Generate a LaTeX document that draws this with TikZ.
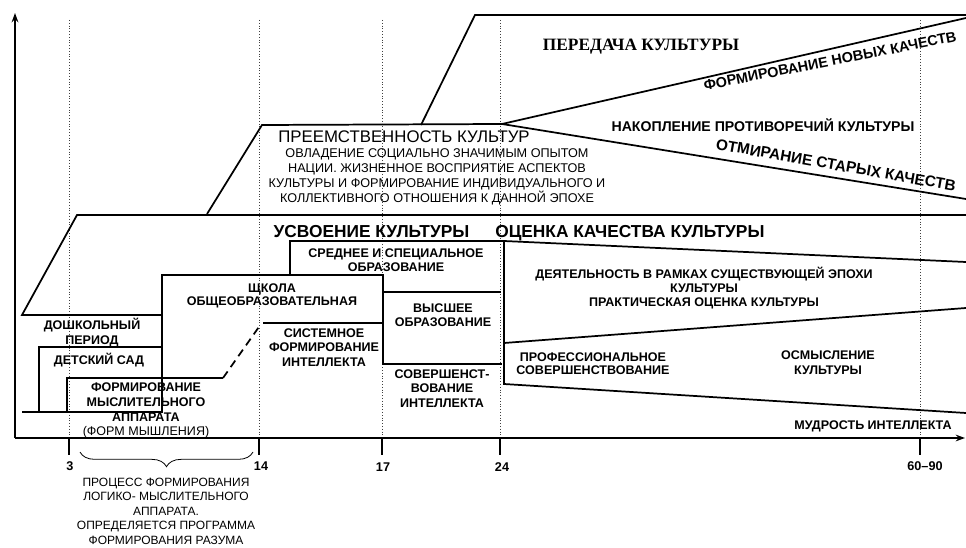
\documentclass[tikz,border=0pt]{standalone}
\usepackage{fontspec}
\setmainfont{Liberation Sans}
\newfontfamily\serifbf{Liberation Serif}
\usetikzlibrary{arrows.meta,decorations.pathreplacing}
\begin{document}
\begin{tikzpicture}[x=0.75pt,y=-0.75pt,
  ln/.style={line width=1.3pt, line join=miter},
  guide/.style={line width=0.6pt, dash pattern=on 0.8pt off 1.3pt, black!75},
  tickln/.style={line width=0.9pt},
  axisln/.style={line width=1.3pt, -{Stealth[length=7pt,width=5pt]}},
  sb/.style={font=\fontsize{9.4}{10.9}\selectfont\bfseries, align=center, anchor=base, inner sep=0pt},
  rg/.style={font=\fontsize{9.4}{10.9}\selectfont, align=center, anchor=base, inner sep=0pt},
  big/.style={font=\fontsize{13}{15}\selectfont\bfseries, anchor=base, inner sep=0pt},
  ticklbl/.style={font=\fontsize{9.5}{11}\selectfont\bfseries, anchor=base, inner sep=0pt}
]
\fill[white] (0,0) rectangle (966,548);
\useasboundingbox (0,0) rectangle (966,548);

% guides (age marks)
\foreach \gx/\gn in {69/g3, 259/g14, 382/g17, 500/g24, 920/g60} {
  \coordinate (\gn top) at (\gx,20);
  \coordinate (\gn ax) at (\gx,438);
  \coordinate (\gn bot) at (\gx,455);
  \draw[guide] (\gn top) -- (\gn ax);
  \draw[tickln] (\gn ax) -- (\gn bot);
}

% axes
\coordinate (O) at (15,438);
\coordinate (Ytop) at (15,13);
\coordinate (Xend) at (965,438);
\draw[axisln] (O) -- (Ytop);
\draw[axisln] (O) -- (Xend);

% outer "usvoenie" trapezoid
\coordinate (u1) at (22,315);
\coordinate (u2) at (77,215);
\coordinate (u3) at (966,215);
\coordinate (u4) at (162,315);
\draw[ln] (u4) -- (u1) -- (u2) -- (u3);

% school and preschool blocks
\coordinate (b1) at (22,412);
\coordinate (b2) at (162,412);
\coordinate (b3) at (162,275);
\coordinate (b4) at (383,275);
\coordinate (b5) at (383,364);
\coordinate (b6) at (502,364);
\draw[ln] (b1) -- (b2) -- (b3) -- (b4) -- (b5) -- (b6);
\coordinate (d1) at (39,412);
\coordinate (d2) at (39,347);
\coordinate (d3) at (162,347);
\draw[ln] (d1) -- (d2) -- (d3);
\coordinate (f1) at (67,412);
\coordinate (f2) at (67,378);
\coordinate (f3) at (223,378);
\coordinate (f4) at (261,324);
\draw[ln] (f1) -- (f2) -- (f3);
\draw[ln, dash pattern=on 6pt off 4pt] (f3) -- (f4);
\coordinate (s1) at (263,323);
\coordinate (s2) at (383,323);
\draw[ln] (s1) -- (s2);
% secondary / higher education
\coordinate (c1) at (290,275);
\coordinate (c2) at (290,241);
\coordinate (c3) at (504,241);
\draw[ln] (c1) -- (c2) -- (c3);
\coordinate (h1) at (383,292);
\coordinate (h2) at (501,292);
\draw[ln] (h1) -- (h2);
% evaluation block
\coordinate (e1) at (966,262);
\coordinate (e2) at (504,384);
\coordinate (e3) at (966,413);
\coordinate (e4) at (504,343);
\coordinate (e5) at (966,308);
\draw[ln] (e1) -- (c3) -- (e2) -- (e3);
\draw[ln] (e4) -- (e5);
% continuity block
\coordinate (p1) at (207,214);
\coordinate (p2) at (262,125);
\coordinate (p3) at (502,124);
\coordinate (p4) at (966,18);
\coordinate (p5) at (966,199);
\draw[ln] (p1) -- (p2) -- (p3) -- (p4);
\draw[ln] (p3) -- (p5);
% transmission block
\coordinate (t1) at (421,125);
\coordinate (t2) at (475,15);
\coordinate (t3) at (966,15);
\draw[ln] (t1) -- (t2) -- (t3);

% brace
\coordinate (br1) at (80,452);
\coordinate (br2) at (253,452);
\draw[line width=0.6pt, decorate, decoration={brace, mirror, amplitude=11pt}] (br1) -- (br2);

% texts (anchor=base of a multi-line node = baseline of its last line)
\node[sb] (doshk) at (92,344.5) {ДОШКОЛЬНЫЙ\\ПЕРИОД};
\node[sb] (dsad) at (99,364.5) {ДЕТСКИЙ САД};
\node[sb] (fma) at (146,421) {ФОРМИРОВАНИЕ\\МЫСЛИТЕЛЬНОГО\\АППАРАТА};
\node[rg] (fmm) at (146,435.5) {(ФОРМ МЫШЛЕНИЯ)};
\node[sb, font=\fontsize{9.4}{10.1}\selectfont\bfseries] (shk) at (272,306) {ЩКОЛА\\ОБЩЕОБРАЗОВАТЕЛЬНАЯ};
\node[sb] (sist) at (324,366.5) {СИСТЕМНОЕ\\ФОРМИРОВАНИЕ\\ИНТЕЛЛЕКТА};
\node[sb, font=\fontsize{9.4}{10.5}\selectfont\bfseries] (sred) at (396,271.5) {СРЕДНЕЕ И СПЕЦИАЛЬНОЕ\\ОБРАЗОВАНИЕ};
\node[sb, font=\fontsize{9.4}{10.5}\selectfont\bfseries] (vys) at (443,326.5) {ВЫСШЕЕ\\ОБРАЗОВАНИЕ};
\node[sb] (sov) at (442,407.5) {СОВЕРШЕНСТ-\\ВОВАНИЕ\\ИНТЕЛЛЕКТА};
\node[sb, font=\fontsize{9.4}{10.5}\selectfont\bfseries] (deyat) at (704,306.5) {ДЕЯТЕЛЬНОСТЬ В РАМКАХ СУЩЕСТВУЮЩЕЙ ЭПОХИ\\КУЛЬТУРЫ\\ПРАКТИЧЕСКАЯ ОЦЕНКА КУЛЬТУРЫ};
\node[sb, font=\fontsize{9.4}{10.1}\selectfont\bfseries] (prof) at (593,374.5) {ПРОФЕССИОНАЛЬНОЕ\\СОВЕРШЕНСТВОВАНИЕ};
\node[sb, font=\fontsize{9.4}{11.25}\selectfont\bfseries] (osm) at (828,374.5) {ОСМЫСЛЕНИЕ\\КУЛЬТУРЫ};
\node[sb] (mudr) at (873,429.5) {МУДРОСТЬ ИНТЕЛЛЕКТА};

\node[big] (usv) at (371.5,238) {УСВОЕНИЕ КУЛЬТУРЫ};
\node[big, anchor=base west] (ots) at (495,238) {ОЦЕНКА КАЧЕСТВА КУЛЬТУРЫ};

\node[font=\fontsize{12.6}{14}\selectfont, anchor=base, inner sep=0pt] (preem) at (404,143) {ПРЕЕМСТВЕННОСТЬ КУЛЬТУР};
\node[rg, font=\fontsize{9.5}{11.25}\selectfont] (ovl) at (437,202.5) {ОВЛАДЕНИЕ СОЦИАЛЬНО ЗНАЧИМЫМ ОПЫТОМ\\НАЦИИ. ЖИЗНЕННОЕ ВОСПРИЯТИЕ АСПЕКТОВ\\КУЛЬТУРЫ И ФОРМИРОВАНИЕ ИНДИВИДУАЛЬНОГО И\\КОЛЛЕКТИВНОГО ОТНОШЕНИЯ К ДАННОЙ ЭПОХЕ};

\node[font=\serifbf\fontsize{13}{15}\selectfont\bfseries, anchor=base, inner sep=0pt] (pered) at (641,51) {ПЕРЕДАЧА КУЛЬТУРЫ};
\node[font=\fontsize{10.8}{12}\selectfont\bfseries, rotate=11, inner sep=0pt] (nov) at (830,61) {ФОРМИРОВАНИЕ НОВЫХ КАЧЕСТВ};
\node[font=\fontsize{10.6}{12}\selectfont\bfseries, anchor=base, inner sep=0pt] (nak) at (763,132) {НАКОПЛЕНИЕ ПРОТИВОРЕЧИЙ КУЛЬТУРЫ};
\node[font=\fontsize{11.5}{13}\selectfont\bfseries, rotate=-10, inner sep=0pt] (otm) at (836,165) {ОТМИРАНИЕ СТАРЫХ КАЧЕСТВ};

% tick labels
\node[ticklbl] (l3) at (70,470) {3};
\node[ticklbl] (l14) at (261,470) {14};
\node[ticklbl] (l17) at (383,471) {17};
\node[ticklbl] (l24) at (502,471) {24};
\node[ticklbl] (l60) at (925,470) {60–90};

% brace text
\node[rg, font=\fontsize{9}{10.9}\selectfont] (proc) at (166,544.3) {ПРОЦЕСС ФОРМИРОВАНИЯ\\ЛОГИКО- МЫСЛИТЕЛЬНОГО\\АППАРАТА.\\ОПРЕДЕЛЯЕТСЯ ПРОГРАММА\\ФОРМИРОВАНИЯ РАЗУМА};
\end{tikzpicture}
\end{document}
